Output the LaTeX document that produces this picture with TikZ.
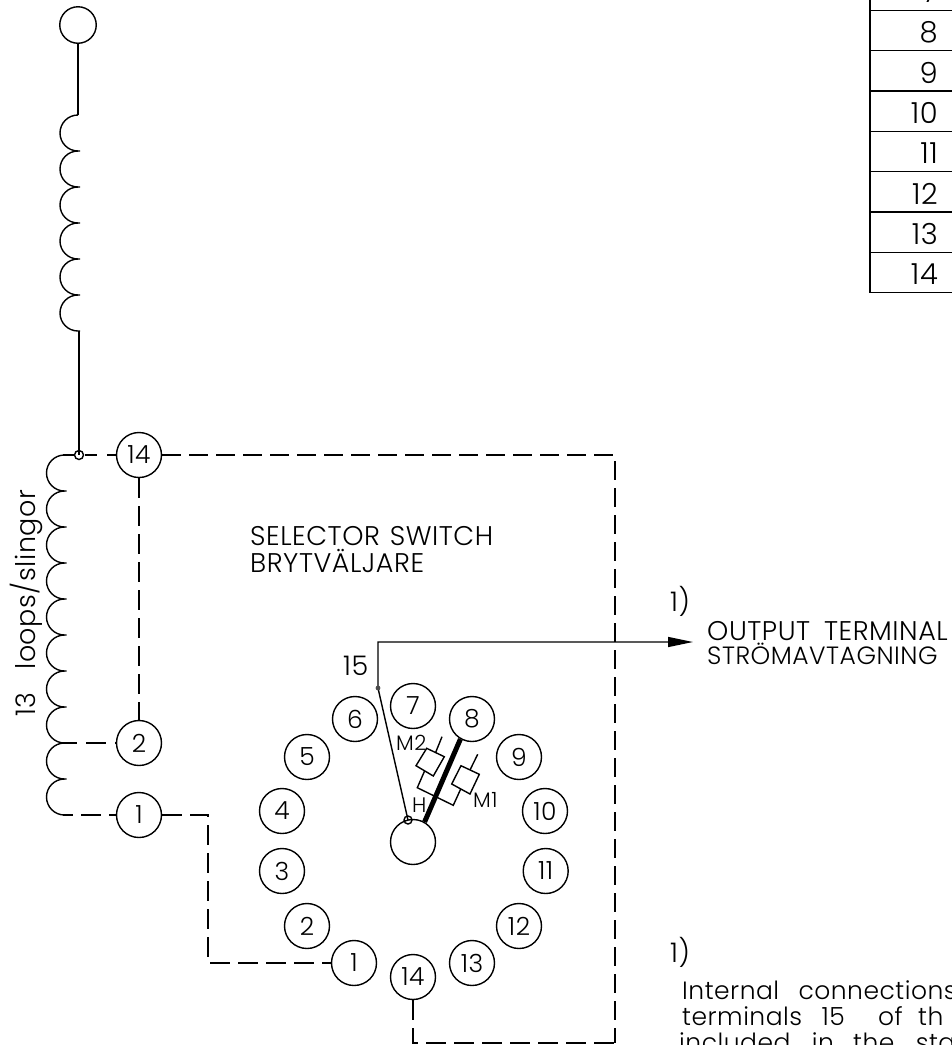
\documentclass[tikz,border=0pt]{standalone}
\usepackage{fontspec}
\setmainfont{Poppins}[UprightFont=* Light,LetterSpace=2]
\usetikzlibrary{arrows.meta}
\tikzset{
  wire/.style={line width=1.4pt,draw=black},
  dashwire/.style={line width=1.4pt,draw=black,dash pattern=on 18.5pt off 8.5pt},
  term/.style={circle,draw=black,line width=1.4pt,minimum size=45pt,inner sep=0pt,font=\fontsize{25}{25}\selectfont},
  lab/.style={inner sep=0pt,anchor=base west,font=\fontsize{27}{27}\selectfont},
  labs/.style={inner sep=0pt,anchor=base west,font=\fontsize{25}{25}\selectfont},
  tiny/.style={inner sep=0pt,anchor=base west,font=\fontsize{21}{21}\selectfont},
  cell/.style={inner sep=0pt,anchor=base east,font=\fontsize{29}{29}\selectfont},
}
\begin{document}
\begin{tikzpicture}[x=1pt,y=-1pt]
\useasboundingbox (0,0) rectangle (952,1045);
% table
\draw[wire] (870,0) -- (870,292.7) -- (952,292.7);
\foreach \y in {10.5,50.7,91,131.5,171.7,212,252.3} \draw[wire] (870,\y) -- (952,\y);
\foreach \t/\y in {7/2,8/42,9/83,10/123,11/163,12/204,13/244,14/284}
  \node[cell] (row\t) at (938,\y) {\t};
% top coil
\node[circle,draw,line width=1.4pt,minimum size=36.5pt,inner sep=0pt] (top) at (78,25) {};
\coordinate (u0) at (78,115);
\coordinate (u1) at (79,331);
\draw[wire] (top.south) -- (u0);
\foreach \i in {0,...,5} {
  \draw[wire] (78,115+36*\i) arc[start angle=-90,delta angle=-180,radius=18] -- ++(2,0);
}
\draw[wire] (u1) -- (79,455);
% lower coil
\coordinate (l0) at (63,455);
\foreach \i in {0,...,9} {
  \draw[wire] (64.5,455+36*\i) arc[start angle=-90,delta angle=-180,radius=18] -- ++(2,0);
}
\node[circle,draw,line width=1.4pt,minimum size=9pt,inner sep=0pt] (jct) at (79,455) {};
\node[term] (a14) at (139,455) {14};
\node[term] (a2) at (139,743) {2};
\node[term] (a1) at (139,815) {1};
\coordinate (t2) at (63,743);
\coordinate (t1) at (63,815);
\coordinate (c1) at (615,455);
\coordinate (c2) at (615,1043);
\coordinate (c3) at (413,1043);
\coordinate (c4) at (208,815);
\coordinate (c5) at (208,963);
\draw[dashwire,dash pattern=on 12pt off 10pt] (l0) -- (a14.west);
\draw[dashwire] (a14.east) -- (c1) -- (c2);
\draw[dashwire,dash pattern=on 20pt off 8pt] (a14.south) -- (a2.north);
\draw[dashwire,dash pattern=on 20pt off 9pt,dash phase=6pt] (t2) -- (a2.west);
\draw[dashwire,dash pattern=on 20pt off 8pt,dash phase=10pt] (t1) -- (a1.west);
% wheel
\foreach \n/\x/\y in {1/354/963,2/307/926,3/282/871,4/282/811,5/307/757,6/355/719,7/413/706,8/472/719,9/519/757,10/545/811,11/545.7/871,12/519/926,13/472/963,14/413/977}
  \node[term] (w\n) at (\x,\y) {\n};
\draw[dashwire,dash pattern=on 20pt off 8pt] (w14.south) -- (c3) -- (c2);
\draw[dashwire,dash pattern=on 20pt off 8pt] (a1.east) -- (c4) -- (c5) -- (w1.west);
\node[term] (hub) at (413,842) {};
\node[circle,draw,line width=1.4pt,minimum size=8pt,inner sep=0pt] (hj) at (408,820) {};
\coordinate (p15) at (378,688);
\coordinate (corner) at (378,642);
\coordinate (tip) at (693,642);
\draw[wire,-{Triangle[length=25pt,width=10pt]}] (hj.center) -- (p15) -- (corner) -- (tip);
\fill[black!70] (p15) circle (2.4);
\draw[line width=5pt] (hub.60) -- (w8.240);
% contacts
\draw[wire] (426.7,748.3) -- (444.3,756.7) -- (433.3,776) -- (416,765.7) -- cycle;
\draw[wire] (435.7,752.3) -- (442,736.7);
\draw[wire] (424.7,770.7) -- (417.3,787.7) -- (453.3,805.3) -- (460.7,789);
\draw[wire] (461,765.7) -- (479.3,774.3) -- (470,794) -- (451.7,784) -- cycle;
\draw[wire] (470,770) -- (477.7,754.3);
\node[tiny] (lm2) at (396,750) {M2};
\node[tiny] (lm1) at (473,807) {M1};
\node[tiny] (lh) at (412,812) {H};
\node[lab] (l15) at (343,675) {15};
% labels
\node[lab] (s1) at (250,545.7) {SELECTOR\hspace{2pt} SWITCH};
\node[lab] (s2) at (250,572.3) {BRYTVÄLJARE};
\node[lab] (n1) at (670,611) {1)};
\node[lab] (o1) at (707,640) {OUTPUT\hspace{6pt} TERMINAL};
\node[labs] (o2) at (707,664) {STRÖMAVTAGNING};
\node[lab] (n2) at (670,962) {1)};
\node[labs] (f1) at (682,999) {Internal\hspace{12pt} connections};
\node[labs] (f2) at (682,1025) {terminals\hspace{12pt} 15\hspace{26pt} of\hspace{8pt} th};
\node[labs] (f3) at (679,1051) {included\hspace{14pt} in\hspace{12pt} the\hspace{14pt} stan};
\node[lab,rotate=90] (loops) at (35,717) {13\hspace{15pt} loops/slingor};
\end{tikzpicture}
\end{document}
